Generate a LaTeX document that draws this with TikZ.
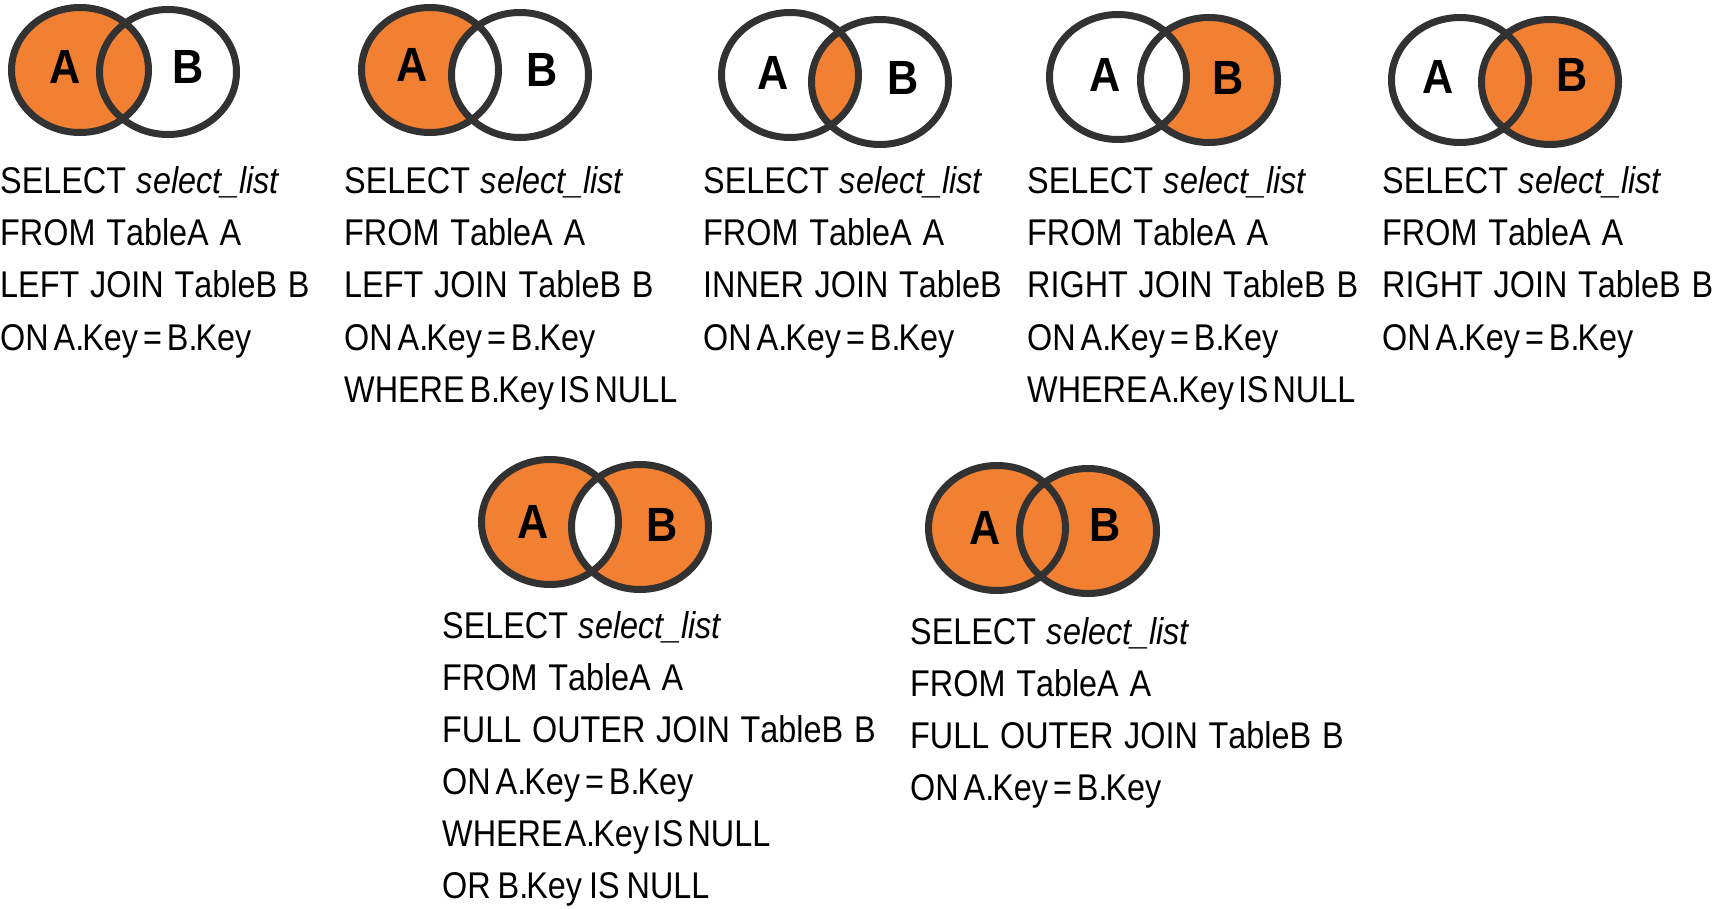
\documentclass[tikz,border=0pt]{standalone}
\usepackage{fontspec}
\setmainfont{Liberation Sans}[FakeStretch=0.87, Kerning=Off, WordSpace=1.2]
\newfontfamily\labfont{Liberation Sans}[FakeStretch=0.9]
\definecolor{jo}{RGB}{241,128,51}
\definecolor{ringc}{RGB}{50,50,50}
\tikzset{
  vr/.style={x radius=68.5pt, y radius=62.5pt},
  ringline/.style={draw=ringc, line width=7pt},
  vlab/.style={font=\labfont\bfseries\fontsize{48}{48}\selectfont, inner sep=0pt, text=black},
  sql/.style={font=\fontsize{37.2}{52}\selectfont, inner sep=0pt, anchor=base west},
}
\newcommand\ws[1]{\hspace{#1pt}}
\newcommand\Ky{.\kern-2pt Key}
\newcommand\sqlblock[4]{\foreach \t [count=\i] in {#4} \node[sql] (#1-\i) at (#2,{#3+52*(\i-1)}) {\t};}
\begin{document}
\begin{tikzpicture}[x=1pt,y=-1pt]
\useasboundingbox (0,0) rectangle (1713,909);
% ---- D1 LEFT JOIN
\coordinate (a1) at (80,70); \coordinate (b1) at (168,72);
\fill[fill=jo] (a1) ellipse[vr];
\draw[ringline] (a1) ellipse[vr] (b1) ellipse[vr];
\node[vlab] (la1) at (65,67) {A}; \node[vlab] (lb1) at (188,67) {B};
% ---- D2 A only
\coordinate (a2) at (430,70); \coordinate (b2) at (520,75);
\begin{scope}\clip (a2) ellipse[vr]; \fill[fill=jo, even odd rule] (a2) ellipse[vr] (b2) ellipse[vr];\end{scope}
\draw[ringline] (a2) ellipse[vr] (b2) ellipse[vr];
\node[vlab] (la2) at (412,65) {A}; \node[vlab] (lb2) at (542,70) {B};
% ---- D3 inner
\coordinate (a3) at (790,75); \coordinate (b3) at (880,82);
\begin{scope}\clip (a3) ellipse[vr]; \fill[fill=jo] (b3) ellipse[vr];\end{scope}
\draw[ringline] (a3) ellipse[vr] (b3) ellipse[vr];
\node[vlab] (la3) at (773,73) {A}; \node[vlab] (lb3) at (903,78) {B};
% ---- D4 B only
\coordinate (a4) at (1118,77); \coordinate (b4) at (1209,80);
\begin{scope}\clip (b4) ellipse[vr]; \fill[fill=jo, even odd rule] (a4) ellipse[vr] (b4) ellipse[vr];\end{scope}
\draw[ringline] (a4) ellipse[vr] (b4) ellipse[vr];
\node[vlab] (la4) at (1105,75) {A}; \node[vlab] (lb4) at (1228,78) {B};
% ---- D5 RIGHT JOIN
\coordinate (a5) at (1460,80); \coordinate (b5) at (1550,82);
\fill[fill=jo] (b5) ellipse[vr];
\draw[ringline] (a5) ellipse[vr] (b5) ellipse[vr];
\node[vlab] (la5) at (1438,77) {A}; \node[vlab] (lb5) at (1572,75) {B};
% ---- D6 xor
\coordinate (a6) at (550,522); \coordinate (b6) at (640,527);
\fill[fill=jo, even odd rule] (a6) ellipse[vr] (b6) ellipse[vr];
\draw[ringline] (a6) ellipse[vr] (b6) ellipse[vr];
\node[vlab] (la6) at (533,522) {A}; \node[vlab] (lb6) at (662,525) {B};
% ---- D7 full
\coordinate (a7) at (997,528); \coordinate (b7) at (1088,531);
\fill[fill=jo] (a7) ellipse[vr] (b7) ellipse[vr];
\draw[ringline] (a7) ellipse[vr] (b7) ellipse[vr];
\node[vlab] (la7) at (985,528) {A}; \node[vlab] (lb7) at (1105,525) {B};
% ---- SQL texts
\sqlblock{s1}{0}{194}{{SELECT \textit{select\_list}},{FROM TableA A},{LEFT JOIN TableB B},{ON\ws{5}A\Ky\ws{5}=\ws{5}B\Ky}}
\sqlblock{s2}{344}{194}{{SELECT \textit{select\_list}},{FROM TableA A},{LEFT JOIN TableB B},{ON\ws{5}A\Ky\ws{5}=\ws{5}B\Ky},{WHERE\ws{5}B\Ky\ws{5}IS\ws{5}NULL}}
\sqlblock{s3}{703}{194}{{SELECT \textit{select\_list}},{FROM TableA A},{INNER JOIN TableB},{ON\ws{5}A\Ky\ws{5}=\ws{5}B\Ky}}
\sqlblock{s4}{1027}{194}{{SELECT \textit{select\_list}},{FROM TableA A},{RIGHT JOIN TableB B},{ON\ws{5}A\Ky\ws{5}=\ws{5}B\Ky},{WHERE\ws{2}A\Ky\ws{4}IS\ws{4}NULL}}
\sqlblock{s5}{1382}{194}{{SELECT \textit{select\_list}},{FROM TableA A},{RIGHT JOIN TableB B},{ON\ws{5}A\Ky\ws{5}=\ws{5}B\Ky}}
\sqlblock{s6}{442}{638}{{SELECT \textit{select\_list}},{FROM TableA A},{FULL OUTER JOIN TableB B},{ON\ws{5}A\Ky\ws{5}=\ws{5}B\Ky},{WHERE\ws{2}A\Ky\ws{4}IS\ws{4}NULL},{OR\ws{7}B\Ky\ws{7}IS\ws{7}NULL}}
\sqlblock{s7}{910}{644}{{SELECT \textit{select\_list}},{FROM TableA A},{FULL OUTER JOIN TableB B},{ON\ws{5}A\Ky\ws{5}=\ws{5}B\Ky}}
\end{tikzpicture}
\end{document}
